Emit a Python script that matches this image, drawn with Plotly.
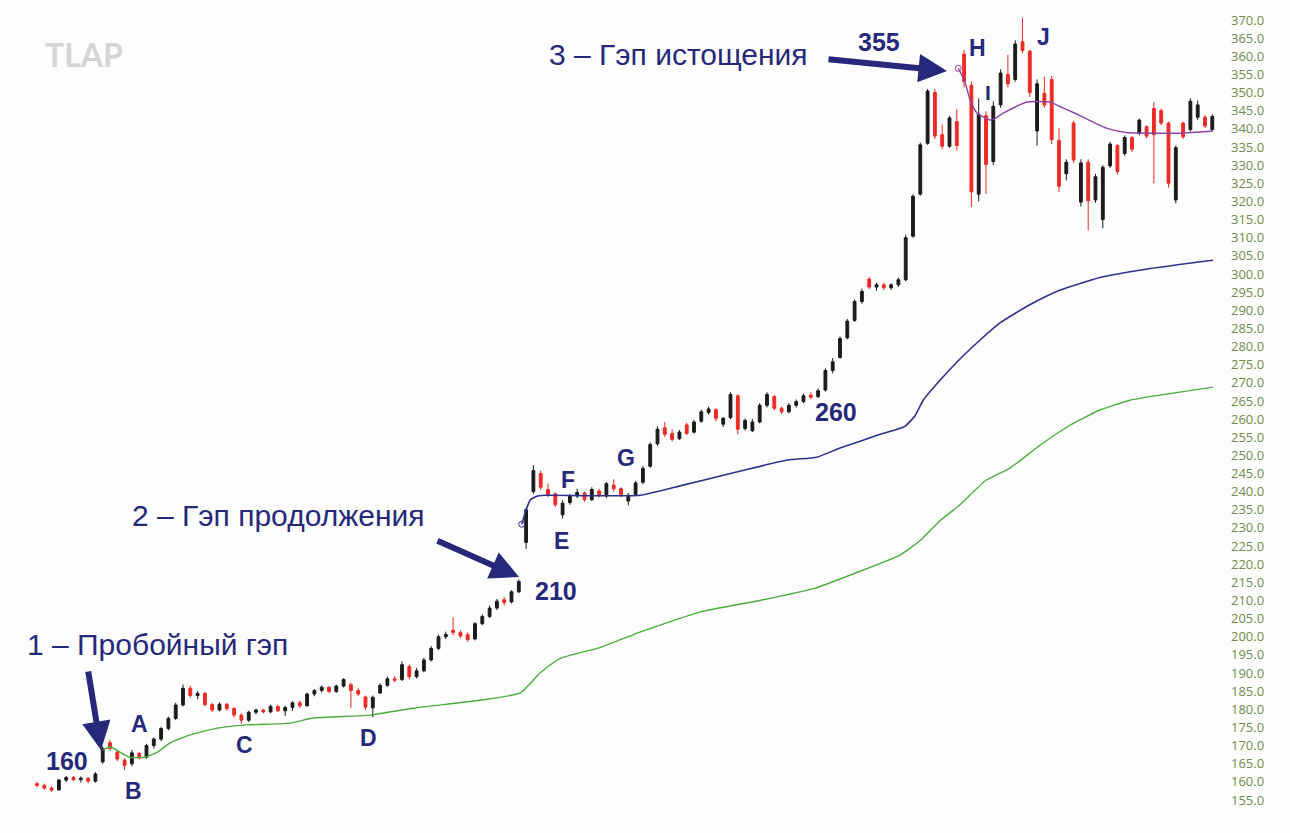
import plotly.graph_objects as go

# ---------------- data ----------------
opens = [159.5,159.0,158.3,157.8,160.5,161.2,160.6,161.0,160.2,165.5,
         170.8,168.2,166.0,165.0,167.8,166.8,170.0,171.8,174.7,177.5,
         181.2,185.8,183.8,184.4,181.3,179.8,181.4,180.2,178.4,177.0,
         179.2,179.8,179.3,180.8,179.6,180.5,181.8,181.0,184.2,185.2,
         186.1,184.9,186.4,186.8,185.2,183.4,180.4,184.5,186.6,188.4,
         188.2,191.8,189.0,190.6,193.6,196.8,200.0,201.8,201.2,200.6,
         199.4,203.6,205.6,207.9,210.2,209.6,212.4,226.0,240.0,245.0,
         240.6,239.4,233.6,237.0,238.8,239.6,237.8,240.2,238.8,241.8,
         240.8,237.4,239.2,242.6,247.0,253.2,257.6,256.0,254.6,258.4,
         256.4,259.4,261.8,262.6,258.6,260.4,266.4,257.4,256.8,259.2,
         263.8,266.2,263.0,262.0,263.8,264.8,266.6,266.2,268.0,273.4,
         277.0,282.4,287.2,292.4,298.6,296.4,297.0,296.2,297.0,298.4,
         310.4,322.0,336.0,350.0,338.4,335.2,342.0,360.6,352.0,322.0,
         343.6,331.0,346.6,355.0,353.6,364.0,361.4,339.4,349.8,353.6,
         336.8,327.6,341.6,319.8,330.8,320.4,315.0,329.8,335.4,333.2,
         337.6,338.8,340.6,345.6,345.0,341.6,320.4,341.6,339.8,343.2,
         343.2,339.8]
highs = [160.0,159.5,158.8,160.8,161.6,161.6,161.5,161.3,162.7,169.8,
         171.6,168.8,166.5,168.8,168.3,170.5,172.3,175.2,178.0,181.8,
         186.8,186.5,185.0,184.8,181.8,181.9,181.8,180.6,178.9,179.6,
         180.2,180.1,181.3,181.3,181.0,182.2,182.4,184.6,185.6,186.6,
         186.4,186.8,188.6,187.4,185.8,183.8,183.8,187.2,189.0,189.2,
         193.2,192.4,191.4,194.2,197.4,200.6,201.4,205.4,201.8,201.2,
         204.0,206.2,208.6,210.4,211.0,212.8,215.8,235.5,247.3,245.8,
         242.2,239.8,237.6,239.4,240.8,240.0,241.2,240.8,242.6,243.4,
         241.2,239.6,243.0,247.0,253.6,258.0,259.2,257.2,257.0,259.0,
         259.8,262.6,263.4,263.0,260.6,267.4,266.8,260.2,260.0,264.4,
         267.4,266.6,263.4,264.4,265.4,267.0,267.4,268.4,274.0,276.8,
         282.8,287.6,293.0,296.0,299.2,297.6,297.6,297.4,299.0,310.8,
         322.0,336.2,351.0,351.0,341.2,343.6,345.4,361.8,353.0,348.4,
         344.8,347.6,356.4,360.4,364.4,370.6,361.8,353.6,354.4,354.6,
         340.2,331.6,342.2,331.6,331.6,327.6,330.0,336.4,335.8,338.2,
         338.0,342.8,341.0,347.4,345.6,342.0,335.4,342.0,348.4,347.8,
         343.8,344.0]
lows = [158.5,157.8,157.3,157.5,160.0,160.2,159.8,159.6,159.8,165.0,
        168.5,165.7,163.3,164.3,166.2,166.4,169.2,171.2,174.2,177.0,
        180.8,183.2,182.8,180.8,179.2,179.4,179.6,177.8,176.0,176.5,
        178.6,178.9,178.9,179.2,178.2,179.6,180.4,180.7,183.6,184.6,
        184.4,184.5,186.0,180.3,183.6,179.8,177.8,184.2,186.2,187.4,
        187.8,188.2,188.5,190.2,193.2,196.3,199.4,200.4,199.6,198.6,
        199.0,203.2,205.2,207.4,208.6,209.2,212.0,224.2,239.4,240.5,
        238.5,235.7,232.6,236.4,238.2,237.2,237.4,238.4,238.2,240.0,
        238.4,236.2,238.8,242.0,246.6,252.6,255.0,253.8,254.2,255.6,
        256.0,259.0,261.2,259.4,257.8,260.0,255.8,256.8,256.4,258.8,
        263.2,262.4,261.4,261.6,263.2,264.4,265.6,265.8,267.6,272.6,
        276.6,282.0,286.8,291.8,295.8,295.4,295.6,295.6,296.4,298.0,
        310.0,321.6,335.6,337.2,334.4,334.8,334.0,351.4,318.4,320.0,
        322.0,330.0,345.8,351.4,353.0,360.8,348.8,335.4,345.8,335.8,
        322.6,325.8,330.6,318.6,312.0,319.6,312.6,329.2,327.4,332.6,
        333.6,338.2,337.4,325.0,341.0,323.8,319.4,337.2,339.2,342.4,
        340.2,339.4]
closes = [159.0,158.3,157.7,160.5,161.2,160.6,161.0,160.2,162.2,169.2,
          169.2,166.3,164.5,168.0,166.6,170.0,171.8,174.7,177.5,181.2,
          185.8,183.8,184.4,181.3,179.8,181.4,180.2,178.4,177.0,179.2,
          179.8,179.3,180.8,179.6,180.5,181.8,181.0,184.2,185.2,186.1,
          184.9,186.4,188.2,185.2,184.2,180.6,183.3,186.6,188.4,188.0,
          192.3,189.0,190.6,193.6,196.8,200.0,200.6,201.2,200.2,199.2,
          203.6,205.6,207.9,209.8,209.4,212.4,215.2,235.0,245.8,241.2,
          239.2,236.4,236.8,238.8,239.8,237.8,240.6,239.0,242.2,240.8,
          239.2,239.0,242.4,246.4,253.0,257.2,255.8,254.4,256.4,256.0,
          259.2,262.0,262.8,260.2,260.2,266.8,257.2,259.6,259.2,263.8,
          266.8,263.0,262.0,263.8,264.8,266.4,266.0,267.8,273.4,275.8,
          282.2,287.0,292.4,295.2,296.4,297.0,296.2,297.0,298.4,310.0,
          321.4,335.6,350.4,338.0,335.2,343.0,335.4,353.0,322.6,344.0,
          330.2,346.2,355.4,352.4,363.4,361.6,350.0,352.4,346.6,337.0,
          324.2,330.8,331.4,330.6,320.2,326.8,329.4,335.8,328.2,337.6,
          334.4,342.4,338.0,338.4,341.6,325.0,334.8,337.8,347.6,346.6,
          340.8,343.4]
days = list(range(len(closes)))

# moving averages (sampled points along the lines)
ma_long_x = [9.0,10.0,12.7,14.8,16.5,18.2,20.9,24.7,28.8,34.7,37.8,45.6,51.5,60.7,66.2,
             68.9,71.6,77.1,82.6,90.8,99.0,106.6,111.4,118.2,121.0,123.7,126.4,129.9,
             133.3,137.4,141.5,145.6,149.7,153.8,161.1]
ma_long_y = [168.8,169.6,166.8,166.8,168.2,170.7,172.9,174.8,175.7,176.2,177.6,178.4,180.3,182.5,184.5,
             190.0,194.0,197.0,201.3,206.8,210.0,213.4,217.0,222.5,226.6,232.0,236.3,243.0,
             246.5,252.8,258.3,262.5,265.2,266.6,268.8]
ma_mid_x = [66.4,67.0,67.6,68.6,69.6,82.6,88.5,95.4,102.8,106.8,110.0,115.5,118.9,
            120.3,121.4,123.7,126.4,129.2,131.9,136.0,140.1,145.6,152.5,161.1]
ma_mid_y = [231.0,235.0,237.8,238.8,239.0,239.0,241.8,245.2,248.7,249.5,252.0,255.8,258.0,
            261.0,265.2,270.7,276.5,281.8,286.5,291.5,295.5,299.0,301.5,303.8]
ma_short_x = [126.2,127.1,127.9,128.8,130.7,132.5,135.6,138.7,140.5,142.2,146.5,149.2,156.6,161.1]
ma_short_y = [356.7,353.0,347.5,344.3,342.4,344.5,347.4,347.4,345.8,344.3,340.2,339.0,338.8,339.4]

y_ticks = [155 + 5 * k for k in range(44)]
y_tick_text = [f"{v:.1f}" for v in y_ticks]

# ---------------- layout helpers ----------------
W, H = 1290, 833
ML, MR, MT, MB = 0, 60, 10, 18
PW, PH = W - ML - MR, H - MT - MB


def px(x):
    return (x - ML) / PW


def py(y):
    return 1 - (y - MT) / PH


NAVY = "#26297a"
fig = go.Figure()

fig.add_trace(go.Candlestick(
    x=days, open=opens, high=highs, low=lows, close=closes,
    increasing=dict(line=dict(color="#1b1b1b", width=1), fillcolor="#1b1b1b"),
    decreasing=dict(line=dict(color="#ee2a24", width=1), fillcolor="#ee2a24"),
    whiskerwidth=0, showlegend=False, hoverinfo="skip"))

fig.add_trace(go.Scatter(x=ma_long_x, y=ma_long_y, mode="lines",
                         line=dict(color="#4aae3c", width=1.4, shape="spline", smoothing=0.5),
                         showlegend=False, hoverinfo="skip"))
fig.add_trace(go.Scatter(x=ma_mid_x, y=ma_mid_y, mode="lines",
                         line=dict(color="#2e3190", width=1.6, shape="spline", smoothing=0.5),
                         showlegend=False, hoverinfo="skip"))
fig.add_trace(go.Scatter(x=ma_short_x, y=ma_short_y, mode="lines",
                         line=dict(color="#8b45a6", width=1.4, shape="spline", smoothing=0.5),
                         showlegend=False, hoverinfo="skip"))
fig.add_trace(go.Scatter(x=[ma_mid_x[0], ma_short_x[0]], y=[ma_mid_y[0], ma_short_y[0]],
                         mode="markers",
                         marker=dict(symbol="circle-open", size=6, color=["#2e3190", "#8b45a6"],
                                     line=dict(width=1)),
                         showlegend=False, hoverinfo="skip"))

ann = []


def label(text, x, y, size=24, bold=True, color=NAVY, family="Liberation Sans, Arial, sans-serif"):
    t = f"<b>{text}</b>" if bold else text
    ann.append(dict(text=t, x=px(x), y=py(y), xref="paper", yref="paper",
                    xanchor="center", yanchor="middle", showarrow=False,
                    font=dict(size=size, color=color, family=family)))


def arrow(x0, y0, x1, y1):
    ann.append(dict(text="", x=px(x1), y=py(y1), xref="paper", yref="paper",
                    ax=x0 - x1, ay=y0 - y1, showarrow=True, arrowhead=2,
                    arrowsize=0.95, arrowwidth=6, arrowcolor=NAVY, standoff=0))


label("TLAP", 84, 55, size=32, color="#d4d4d4", family="Lato, Liberation Sans, sans-serif")
label("3 – Гэп истощения", 678, 55, size=30, bold=False)
label("2 – Гэп продолжения", 278, 515, size=30, bold=False)
label("1 – Пробойный гэп", 157, 644, size=30, bold=False)
label("355", 879, 42, size=25)
label("210", 556, 591, size=25)
label("160", 67, 761, size=25)
label("260", 836, 412, size=25)
label("A", 139, 724, size=23)
label("B", 133, 791, size=23)
label("C", 244, 745, size=23)
label("D", 368, 738, size=23)
label("E", 561, 541, size=23)
label("F", 568, 480, size=23)
label("G", 626, 458, size=23)
label("H", 977, 48, size=23)
label("I", 988, 92, size=21)
label("J", 1043, 37, size=23)

arrow(88, 670, 101, 750)
arrow(436, 540, 519, 577)
arrow(827, 59, 947, 71)

fig.update_layout(
    width=W, height=H,
    margin=dict(l=ML, r=MR, t=MT, b=MB),
    paper_bgcolor="#fdfdfd", plot_bgcolor="#fdfdfd",
    boxgap=0.45,
    annotations=ann,
    xaxis=dict(range=[-37 / 7.3, -37 / 7.3 + PW / 7.3], showgrid=False, zeroline=False,
               showticklabels=False, rangeslider=dict(visible=False), showline=False),
    yaxis=dict(range=[150.87, 150.87 + PH / 3.628], side="right", showgrid=False,
               zeroline=False, tickmode="array", tickvals=y_ticks, ticktext=y_tick_text,
               tickfont=dict(size=13, color="#6e8c4a", family="Open Sans, sans-serif"),
               ticks="", showline=False),
)

fig.write_html("out.html")
